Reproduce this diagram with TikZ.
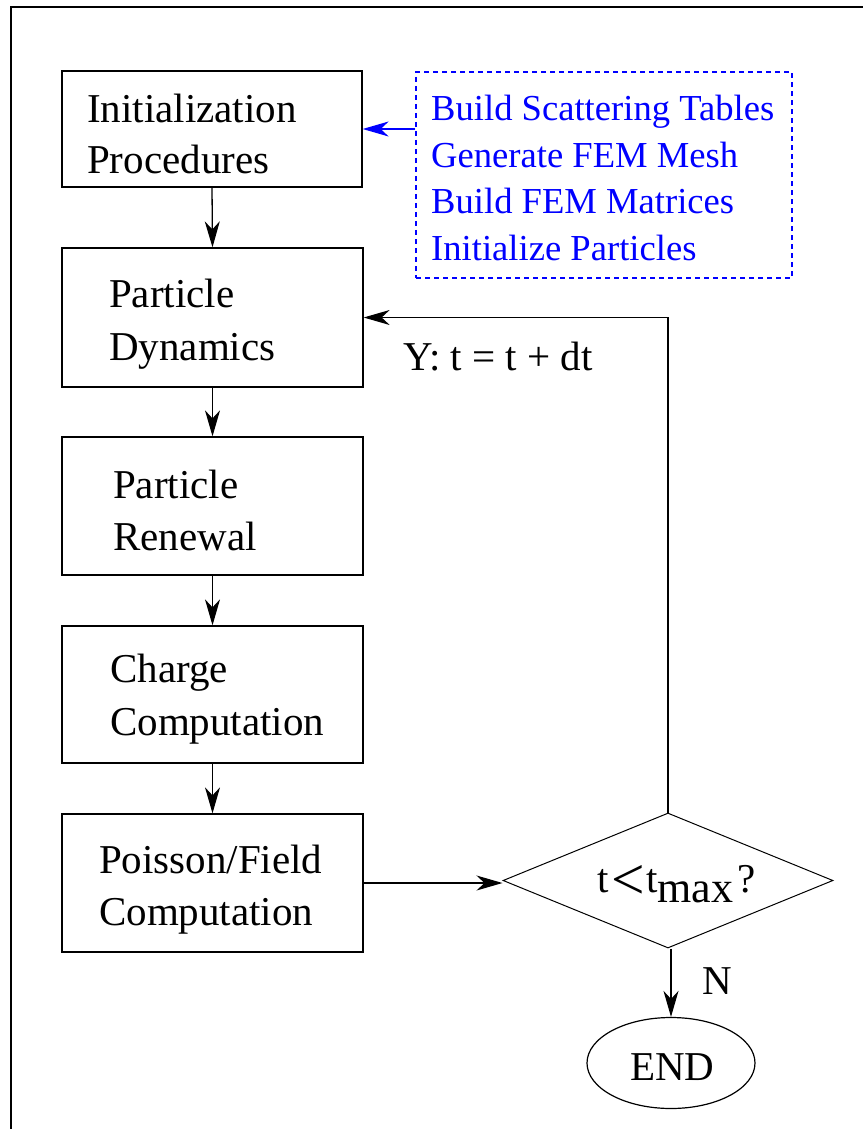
\documentclass[tikz,border=0pt]{standalone}
\usepackage{fontspec}
\usepackage{graphicx}
\setmainfont{Liberation Serif}
\usetikzlibrary{arrows.meta,shapes.geometric}
\definecolor{dblue}{RGB}{0,0,255}
\begin{document}
\begin{tikzpicture}[x=1pt,y=-1pt,
  box/.style={draw,line width=1.3pt,inner sep=0pt,minimum width=301pt},
  txt/.style={anchor=base west,inner sep=0pt,font=\fontsize{41}{50}\selectfont},
  btxt/.style={anchor=base west,inner sep=0pt,text=dblue,font=\fontsize{36.6}{46}\selectfont},
  arr/.style={line width=1.3pt,-{Stealth[length=26pt,width=15pt,inset=8pt]}}]
\useasboundingbox (0,0) rectangle (863,1129);
\draw[line width=2pt] (10.5,1129) -- (10.5,7.5) -- (863,7.5);

\node[box,minimum width=300pt,minimum height=116pt] (b1) at (212,129) {};
\node[box,minimum height=139pt] (b2) at (212.5,317.5) {};
\node[box,minimum height=138pt] (b3) at (212.5,506) {};
\node[box,minimum height=137pt] (b4) at (212.5,694.5) {};
\node[box,minimum height=138pt] (b5) at (212.5,883) {};

\node[txt] (t1a) at (87,122) {Initialization};
\node[txt] (t1b) at (87,173) {Procedures};
\node[txt] (t2a) at (109,307) {Particle};
\node[txt] (t2b) at (109,360) {Dynamics};
\node[txt] (t3a) at (113,498) {Particle};
\node[txt] (t3b) at (113,550) {Renewal};
\node[txt] (t4a) at (110,682) {Charge};
\node[txt] (t4b) at (110,735) {Computation};
\node[txt] (t5a) at (99,873) {Poisson/Field};
\node[txt] (t5b) at (99,925) {Computation};

\node[draw=dblue,dashed,line width=1.2pt,dash pattern=on 5pt off 4pt,inner sep=0pt,minimum width=376pt,minimum height=206pt] (blue) at (604,175) {};
\node[btxt] (bt1) at (431,121) {Build Scattering Tables};
\node[btxt] (bt2) at (431,167) {Generate FEM Mesh};
\node[btxt] (bt3) at (431,213) {Build FEM Matrices};
\node[btxt] (bt4) at (431,260) {Initialize Particles};

\node[draw,diamond,line width=1pt,inner sep=0pt,aspect=2.4,minimum width=330pt,minimum height=135pt] (dia) at (668,880.5) {};
\node[txt] (dt) at (597,892) {t\hspace{3pt}\raisebox{-7pt}{\scalebox{1.45}{<}}\hspace{1pt}t\raisebox{-10pt}{\fontsize{44}{50}\selectfont max}\hspace{4pt}?};

\node[draw,ellipse,line width=1.2pt,inner sep=0pt,minimum width=168pt,minimum height=91pt] (end) at (671,1063) {};
\node[txt] (endt) at (630,1080) {END};

\node[txt] (ylab) at (403,370) {Y: t = t + dt};
\node[txt] (nlab) at (702,994) {N};

\draw[arr] (b1.south) -- (b2.north);
\draw[arr] (b2.south) -- (b3.north);
\draw[arr] (b3.south) -- (b4.north);
\draw[arr] (b4.south) -- (b5.north);
\draw[arr] (b5.east) -- (b5.east -| dia.west);
\draw[arr] (dia.south -| end.north) -- (end.north);
\draw[arr] (dia.north) |- (b2.east);
\draw[arr,draw=dblue,fill=dblue] (blue.west |- b1.east) -- (b1.east);
\end{tikzpicture}
\end{document}
